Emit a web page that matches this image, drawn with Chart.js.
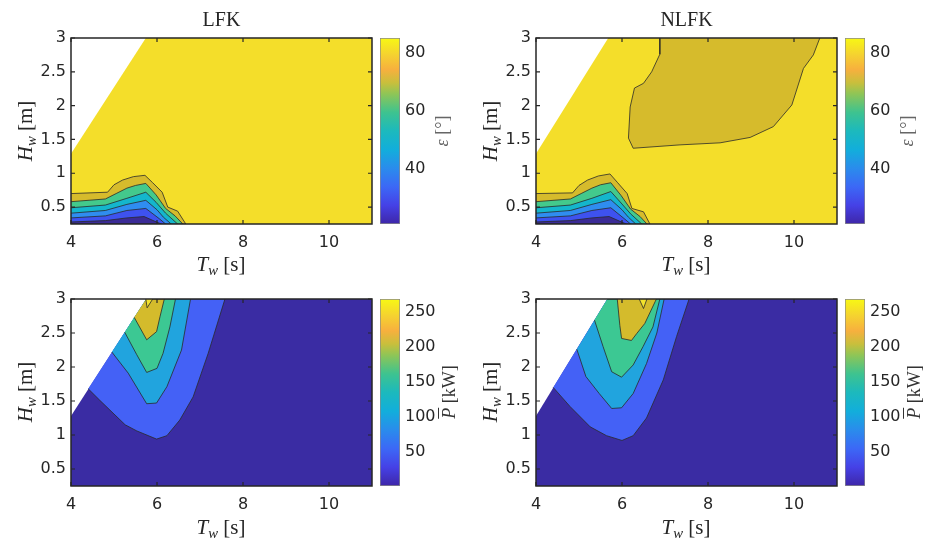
<!DOCTYPE html>
<html>
<head>
<meta charset="utf-8">
<script src="https://cdn.jsdelivr.net/npm/chart.js@4.4.1/dist/chart.umd.min.js"></script>
<style>
  body { margin: 0; background: #fff; width: 926px; height: 541px; position: relative; overflow: hidden; }
  canvas { position: absolute; }
  .lbl { position: absolute; font-family: "Liberation Serif", serif; font-size: 21px; color: #262626;
         white-space: nowrap; transform: translate(-50%, -50%); line-height: 1; }
  .rot { transform: translate(-50%, -50%) rotate(-90deg); }
  .lbl sub { font-size: 0.7em; vertical-align: -0.3em; line-height: 0; }
  .cb { font-size: 18px; }
</style>
</head>
<body>
<canvas id="epsLfk" width="380" height="262" style="left:0;top:0"></canvas>
<canvas id="epsLfkBar" width="70" height="262" style="left:376px;top:0"></canvas>
<canvas id="epsNlfk" width="380" height="262" style="left:465px;top:0"></canvas>
<canvas id="epsNlfkBar" width="70" height="262" style="left:841px;top:0"></canvas>
<canvas id="powLfk" width="380" height="263" style="left:0;top:261px"></canvas>
<canvas id="powLfkBar" width="70" height="263" style="left:376px;top:261px"></canvas>
<canvas id="powNlfk" width="380" height="263" style="left:465px;top:261px"></canvas>
<canvas id="powNlfkBar" width="70" height="263" style="left:841px;top:261px"></canvas>

<div class="lbl" style="left:221px;top:264px"><i>T<sub>w</sub></i> [s]</div>
<div class="lbl" style="left:686px;top:264px"><i>T<sub>w</sub></i> [s]</div>
<div class="lbl" style="left:221px;top:527px"><i>T<sub>w</sub></i> [s]</div>
<div class="lbl" style="left:686px;top:527px"><i>T<sub>w</sub></i> [s]</div>
<div class="lbl rot" style="left:25px;top:131px"><i>H<sub>w</sub></i> [m]</div>
<div class="lbl rot" style="left:490px;top:131px"><i>H<sub>w</sub></i> [m]</div>
<div class="lbl rot" style="left:25px;top:392px"><i>H<sub>w</sub></i> [m]</div>
<div class="lbl rot" style="left:490px;top:392px"><i>H<sub>w</sub></i> [m]</div>
<div class="lbl rot cb" style="left:442px;top:131px;color:#666"><i>ε</i> [°]</div>
<div class="lbl rot cb" style="left:907px;top:131px;color:#666"><i>ε</i> [°]</div>
<div class="lbl rot cb" style="left:449px;top:392px;color:#333"><i style="text-decoration:overline">P</i> [kW]</div>
<div class="lbl rot cb" style="left:914px;top:392px;color:#333"><i style="text-decoration:overline">P</i> [kW]</div>

<script>
"use strict";

// axes
const xRange = [4, 11];
const yRange = [0.25, 3];
const xTicks = [4, 6, 8, 10];
const yTicks = [0.5, 1, 1.5, 2, 2.5, 3];

// colour bars
const epsRange = [21, 85];
const epsTicks = [40, 60, 80];
const powRange = [2, 268];
const powTicks = [50, 100, 150, 200, 250];

// misalignment angle, LFK (contour lines, [Tw, Hw])
const lfkEpsAll = [[4, 0.25], [11, 0.25], [11, 3], [5.74, 3], [4, 1.29]];
const lfkEps70 = [[4, 0.70], [4.85, 0.72], [5.0, 0.83], [5.2, 0.90], [5.45, 0.95], [5.72, 0.97], [5.9, 0.86], [6.12, 0.72], [6.25, 0.50], [6.48, 0.44], [6.67, 0.25], [4, 0.25]];
const lfkEps60 = [[4, 0.58], [4.8, 0.62], [5.05, 0.70], [5.3, 0.78], [5.5, 0.82], [5.74, 0.85], [5.98, 0.68], [6.2, 0.48], [6.42, 0.37], [6.6, 0.25], [4, 0.25]];
const lfkEps50 = [[4, 0.49], [4.8, 0.53], [5.3, 0.63], [5.74, 0.72], [5.98, 0.57], [6.2, 0.41], [6.48, 0.25], [4, 0.25]];
const lfkEps40 = [[4, 0.41], [4.8, 0.45], [5.3, 0.54], [5.74, 0.60], [6.0, 0.46], [6.15, 0.35], [6.33, 0.25], [4, 0.25]];
const lfkEps30 = [[4, 0.34], [4.8, 0.37], [5.3, 0.45], [5.74, 0.48], [6.05, 0.33], [6.2, 0.25], [4, 0.25]];
const lfkEps20 = [[4, 0.28], [4.8, 0.30], [5.3, 0.34], [5.7, 0.36], [5.95, 0.29], [6.1, 0.25], [4, 0.25]];

// misalignment angle, NLFK
const nlfkEpsAll = [[4, 0.25], [11, 0.25], [11, 3], [5.68, 3], [4, 1.29]];
const nlfkEpsBlob = [[6.88, 3], [6.88, 2.76], [6.69, 2.50], [6.5, 2.33], [6.29, 2.26], [6.19, 1.98], [6.15, 1.52], [6.26, 1.37], [7.35, 1.42], [8.28, 1.45], [8.98, 1.53], [9.52, 1.69], [9.95, 2.01], [10.22, 2.55], [10.45, 2.75], [10.6, 3]];
const nlfkEps70 = [[4, 0.70], [4.85, 0.71], [5.0, 0.82], [5.2, 0.90], [5.45, 0.96], [5.72, 0.99], [5.9, 0.86], [6.12, 0.70], [6.23, 0.48], [6.5, 0.43], [6.65, 0.25], [4, 0.25]];
const nlfkEps60 = [[4, 0.58], [4.8, 0.62], [5.05, 0.70], [5.3, 0.78], [5.5, 0.83], [5.74, 0.86], [5.98, 0.67], [6.2, 0.47], [6.42, 0.36], [6.58, 0.25], [4, 0.25]];
const nlfkEps50 = [[4, 0.49], [4.8, 0.53], [5.3, 0.63], [5.74, 0.73], [5.98, 0.56], [6.2, 0.40], [6.46, 0.25], [4, 0.25]];
const nlfkEps40 = [[4, 0.41], [4.8, 0.45], [5.3, 0.54], [5.74, 0.61], [6.0, 0.46], [6.15, 0.35], [6.32, 0.25], [4, 0.25]];
const nlfkEps30 = [[4, 0.34], [4.8, 0.37], [5.3, 0.45], [5.74, 0.49], [6.05, 0.33], [6.2, 0.25], [4, 0.25]];
const nlfkEps20 = [[4, 0.28], [4.8, 0.30], [5.3, 0.34], [5.7, 0.36], [5.95, 0.29], [6.1, 0.25], [4, 0.25]];

// mean power, LFK
const lfkPowAll = [[4, 0.25], [11, 0.25], [11, 3], [5.75, 3], [4, 1.28]];
const lfkPow40 = [[4.40, 1.68], [4.67, 1.51], [5.26, 1.15], [5.53, 1.06], [5.99, 0.94], [6.23, 0.99], [6.53, 1.22], [6.84, 1.56], [7.19, 2.2], [7.58, 3], [5.75, 3]];
const lfkPow80 = [[4.95, 2.22], [5.33, 1.91], [5.76, 1.46], [5.99, 1.47], [6.23, 1.71], [6.57, 2.25], [6.78, 3], [5.75, 3]];
const lfkPow120 = [[5.25, 2.51], [5.53, 2.18], [5.76, 1.92], [6.0, 1.98], [6.14, 2.2], [6.3, 2.59], [6.43, 3], [5.75, 3]];
const lfkPow160 = [[5.47, 2.73], [5.76, 2.4], [5.99, 2.52], [6.07, 2.74], [6.17, 3], [5.75, 3]];
const lfkPow200 = [[5.74, 3], [5.77, 2.87], [5.9, 3]];

// mean power, NLFK
const nlfkPowAll = [[4, 0.25], [11, 0.25], [11, 3], [5.66, 3], [4, 1.28]];
const nlfkPow40 = [[4.40, 1.70], [4.79, 1.42], [5.26, 1.12], [5.64, 0.99], [6.0, 0.92], [6.26, 0.99], [6.57, 1.25], [6.96, 1.81], [7.27, 2.45], [7.56, 3], [5.66, 3]];
const nlfkPow80 = [[4.95, 2.26], [5.16, 1.86], [5.47, 1.61], [5.76, 1.39], [5.99, 1.40], [6.26, 1.61], [6.57, 2.05], [6.81, 2.5], [6.98, 3], [5.66, 3]];
const nlfkPow120 = [[5.36, 2.69], [5.56, 2.3], [5.76, 1.93], [5.99, 1.85], [6.26, 2.03], [6.49, 2.3], [6.72, 2.59], [6.88, 3], [5.66, 3]];
const nlfkPow160 = [[5.89, 3], [5.95, 2.61], [5.99, 2.42], [6.22, 2.39], [6.34, 2.49], [6.53, 2.64], [6.77, 2.96], [6.8, 3]];
const nlfkPow200 = [[6.4, 3], [6.5, 2.86], [6.58, 3]];

// fill colours, low to high level
const epsFill = ["#3b2b96", "#3e52ef", "#2f8df0", "#14b6cc", "#43c98c", "#d6bb2c", "#f4de2a"];
const powFill = ["#3a2ca3", "#4461f6", "#21a4de", "#3cc893", "#d4bb2c", "#f3e32c"];
const parula = [
  [0, "#3e26a8"], [0.1, "#4541e6"], [0.2, "#3c68f6"], [0.3, "#2a8cec"], [0.4, "#12aedb"],
  [0.5, "#1cb9bd"], [0.6, "#3ec38f"], [0.7, "#8fc556"], [0.76, "#c9bf3c"], [0.83, "#f7b03e"],
  [0.91, "#f5d230"], [1, "#f7f814"]
];

const ink = "#262626";
const tickFont = { family: "'DejaVu Sans', sans-serif", size: 16 };

// axes box and inward ticks drawn above the filled contours
const framePlugin = {
  id: "frame",
  afterDatasetsDraw(chart) {
    const { ctx, chartArea: a, scales } = chart;
    ctx.save();
    ctx.strokeStyle = ink;
    ctx.lineWidth = 1.2;
    ctx.beginPath();
    scales.x.ticks.forEach((t) => {
      const px = scales.x.getPixelForValue(t.value);
      ctx.moveTo(px, a.bottom); ctx.lineTo(px, a.bottom - 4);
      ctx.moveTo(px, a.top); ctx.lineTo(px, a.top + 4);
    });
    scales.y.ticks.forEach((t) => {
      const py = scales.y.getPixelForValue(t.value);
      ctx.moveTo(a.left, py); ctx.lineTo(a.left + 4, py);
      ctx.moveTo(a.right, py); ctx.lineTo(a.right - 4, py);
    });
    ctx.stroke();
    ctx.lineWidth = 1.5;
    ctx.strokeRect(a.left, a.top, a.right - a.left, a.bottom - a.top);
    ctx.restore();
  },
};

function contourChart(id, title, layers) {
  const datasets = layers.map(([pts, color], i) => ({
    data: pts.map((p) => ({ x: p[0], y: p[1] })),
    fill: "shape",
    backgroundColor: color,
    borderColor: "#2a2a2a",
    borderWidth: i === 0 ? 0 : 0.8,
    pointRadius: 0,
    tension: 0,
    order: layers.length - i,
  }));

  new Chart(document.getElementById(id), {
    type: "line",
    data: { datasets },
    options: {
      responsive: false,
      animation: false,
      events: [],
      layout: { padding: { top: title ? 0 : 38, right: 8 } },
      plugins: {
        legend: { display: false },
        tooltip: { enabled: false },
        title: {
          display: !!title,
          text: title,
          fullSize: false,
          color: ink,
          font: { family: "'Liberation Serif', serif", size: 20, weight: "normal" },
          padding: { top: 9, bottom: 5 },
        },
      },
      scales: {
        x: {
          type: "linear",
          min: xRange[0],
          max: xRange[1],
          grid: { display: false, drawTicks: false },
          border: { display: false },
          afterBuildTicks: (s) => { s.ticks = xTicks.map((v) => ({ value: v })); },
          afterFit: (s) => { s.height = 38; },
          ticks: { font: tickFont, color: ink, padding: 9, maxRotation: 0, callback: (v) => String(v) },
        },
        y: {
          type: "linear",
          min: yRange[0],
          max: yRange[1],
          grid: { display: false, drawTicks: false },
          border: { display: false },
          afterBuildTicks: (s) => { s.ticks = yTicks.map((v) => ({ value: v })); },
          afterFit: (s) => { s.width = 71; },
          ticks: { font: tickFont, color: ink, padding: 5, callback: (v) => String(v) },
        },
      },
    },
    plugins: [framePlugin],
  });
}

function colorBar(id, range, ticks) {
  new Chart(document.getElementById(id), {
    type: "bar",
    data: {
      labels: [""],
      datasets: [{
        data: [range],
        barPercentage: 1,
        categoryPercentage: 1,
        borderWidth: 1,
        borderColor: "#8a8a8a",
        borderSkipped: false,
        backgroundColor: (c) => {
          const area = c.chart.chartArea;
          if (!area) return null;
          const g = c.chart.ctx.createLinearGradient(0, area.bottom, 0, area.top);
          parula.forEach(([s, col]) => g.addColorStop(s, col));
          return g;
        },
      }],
    },
    options: {
      responsive: false,
      animation: false,
      events: [],
      layout: { padding: { left: 4, top: 38, bottom: 38 } },
      plugins: { legend: { display: false }, tooltip: { enabled: false } },
      scales: {
        x: { display: false },
        y: {
          position: "right",
          min: range[0],
          max: range[1],
          grid: { display: false, drawTicks: false },
          border: { display: false },
          afterBuildTicks: (s) => { s.ticks = ticks.map((v) => ({ value: v })); },
          afterFit: (s) => { s.width = 46; },
          ticks: { font: tickFont, color: ink, padding: 5, callback: (v) => String(v) },
        },
      },
    },
  });
}

contourChart("epsLfk", "LFK", [
  [lfkEpsAll, epsFill[6]], [lfkEps70, epsFill[5]], [lfkEps60, epsFill[4]], [lfkEps50, epsFill[3]],
  [lfkEps40, epsFill[2]], [lfkEps30, epsFill[1]], [lfkEps20, epsFill[0]],
]);
contourChart("epsNlfk", "NLFK", [
  [nlfkEpsAll, epsFill[6]], [nlfkEpsBlob, epsFill[5]], [nlfkEps70, epsFill[5]], [nlfkEps60, epsFill[4]],
  [nlfkEps50, epsFill[3]], [nlfkEps40, epsFill[2]], [nlfkEps30, epsFill[1]], [nlfkEps20, epsFill[0]],
]);
contourChart("powLfk", "", [
  [lfkPowAll, powFill[0]], [lfkPow40, powFill[1]], [lfkPow80, powFill[2]], [lfkPow120, powFill[3]],
  [lfkPow160, powFill[4]], [lfkPow200, powFill[5]],
]);
contourChart("powNlfk", "", [
  [nlfkPowAll, powFill[0]], [nlfkPow40, powFill[1]], [nlfkPow80, powFill[2]], [nlfkPow120, powFill[3]],
  [nlfkPow160, powFill[4]], [nlfkPow200, powFill[5]],
]);

colorBar("epsLfkBar", epsRange, epsTicks);
colorBar("epsNlfkBar", epsRange, epsTicks);
colorBar("powLfkBar", powRange, powTicks);
colorBar("powNlfkBar", powRange, powTicks);
</script>
</body>
</html>
